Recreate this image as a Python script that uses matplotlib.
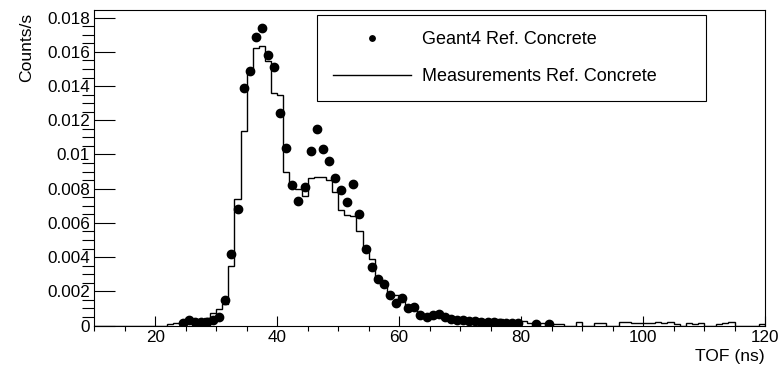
import numpy as np
import matplotlib.pyplot as plt
from matplotlib.ticker import MultipleLocator, FuncFormatter

plt.rcParams['font.family'] = ['Liberation Sans', 'DejaVu Sans']

# Measurements: 1 ns bins from 10 to 120 ns (Counts/s)
bin_edges = np.arange(10, 121, 1)
meas_rate = [
    # 10-21 ns
    0, 0, 0, 0, 0, 0, 0, 0, 0, 0, 0, 0,
    # 22-31
    0.0001, 0.00015, 0.00015, 0.0002, 0.0002, 0.0003, 0.00045, 0.00074, 0.00094, 0.00123,
    # 32-41
    0.0035, 0.0074, 0.01136, 0.01497, 0.01624, 0.01633, 0.01546, 0.0136, 0.0135, 0.0090,
    # 42-51
    0.0082, 0.0080, 0.0076, 0.0086, 0.0087, 0.0087, 0.0085, 0.0078, 0.00675, 0.00646,
    # 52-61
    0.0064, 0.0055, 0.0046, 0.0039, 0.0028, 0.0025, 0.0018, 0.0018, 0.0015, 0.0012,
    # 62-71
    0.0012, 0.0007, 0.0006, 0.0006, 0.0006, 0.0005, 0.0004, 0.0004, 0.0003, 0.0003,
    # 72-81
    0.0002, 0.0004, 0.0002, 0.0002, 0.0004, 0.0002, 0.0002, 0.0001, 0.00025, 0.00015,
    # 82-91
    0.00015, 0.00015, 0.00015, 0.0001, 0.0001, 0, 0, 0.0002, 0, 0,
    # 92-101
    0.00015, 0.00015, 0, 0, 0.0002, 0.0002, 0.00015, 0.00015, 0.00015, 0.00015,
    # 102-111
    0.0002, 0.00015, 0.0002, 0.0001, 0, 0.00015, 0.0001, 0.00015, 0, 0,
    # 112-119
    0.0001, 0.00015, 0.0002, 0, 0, 0, 0, 0.0001,
]

# Geant4 simulation points (bin centres, Counts/s)
sim_tof = list(np.arange(24.5, 80, 1)) + [82.5, 84.5]
sim_rate = [
    0.00015, 0.0003, 0.0002, 0.0002, 0.0002, 0.0003, 0.0005, 0.0015,   # 24.5-31.5
    0.0042, 0.0068, 0.0139, 0.0149, 0.0169, 0.0174, 0.0158, 0.0151,    # 32.5-39.5
    0.0124, 0.0104, 0.0082, 0.0073, 0.0081, 0.0102, 0.0115, 0.0103,    # 40.5-47.5
    0.0096, 0.0086, 0.0079, 0.0072, 0.0083, 0.0065, 0.0045, 0.0034,    # 48.5-55.5
    0.0027, 0.0024, 0.0018, 0.0013, 0.0016, 0.0010, 0.0011, 0.0006,    # 56.5-63.5
    0.0005, 0.0006, 0.0007, 0.0005, 0.0004, 0.0003, 0.0003, 0.00025,   # 64.5-71.5
    0.00025, 0.0002, 0.0002, 0.0002, 0.00015, 0.00015, 0.00015, 0.00015,  # 72.5-79.5
    0.0001, 0.0001,                                                    # 82.5, 84.5
]

W, H = 784, 367
fig = plt.figure(figsize=(W / 100, H / 100), dpi=100)
ax = fig.add_axes([94.2 / W, 1 - 325.5 / H, (765 - 94.2) / W, (325.5 - 10) / H])

ax.stairs(meas_rate, bin_edges, color='black', linewidth=1.0,
          label='Measurements Ref. Concrete')
ax.plot(sim_tof, sim_rate, 'o', color='black', markersize=6,
        label='Geant4 Ref. Concrete')

ax.set_xlim(10, 120)
ax.set_ylim(0, 0.01845)

ax.xaxis.set_major_locator(MultipleLocator(20))
ax.xaxis.set_minor_locator(MultipleLocator(5))
ax.yaxis.set_major_locator(MultipleLocator(0.002))
ax.yaxis.set_minor_locator(MultipleLocator(0.0005))
ax.yaxis.set_major_formatter(FuncFormatter(lambda v, p: f'{v:g}'))
ax.xaxis.set_major_formatter(FuncFormatter(lambda v, p: f'{v:g}' if v >= 20 else ''))

ax.tick_params(axis='both', direction='in', labelsize=12.3, width=0.8)
ax.tick_params(axis='y', which='major', length=15, pad=3)
ax.tick_params(axis='y', which='minor', length=8.4, width=0.8)
ax.tick_params(axis='x', which='major', length=7.2, pad=3)
ax.tick_params(axis='x', which='minor', length=3.6, width=0.8)
for s in ax.spines.values():
    s.set_linewidth(0.8)

fig.text(765 / W, 1 - 356 / H, 'TOF (ns)', ha='right', va='center', fontsize=12.6)
fig.text(27 / W, 1 - 13 / H, 'Counts/s', ha='center', va='top', rotation=90, fontsize=12.6)

handles, labels = ax.get_legend_handles_labels()
leg = ax.legend(handles[::-1], labels[::-1], loc='upper left',
                bbox_to_anchor=(317 / W, 1 - 15 / H - 0.01, (706 - 317) / W, 0.01),
                bbox_transform=fig.transFigure, mode='expand', borderaxespad=0,
                fontsize=13, fancybox=False, framealpha=1, edgecolor='black',
                borderpad=0.89, labelspacing=1.11, handlelength=4.3,
                handletextpad=0.62, markerscale=0.65)
leg.get_frame().set_linewidth(0.8)

fig.savefig('out.png', dpi=100)
